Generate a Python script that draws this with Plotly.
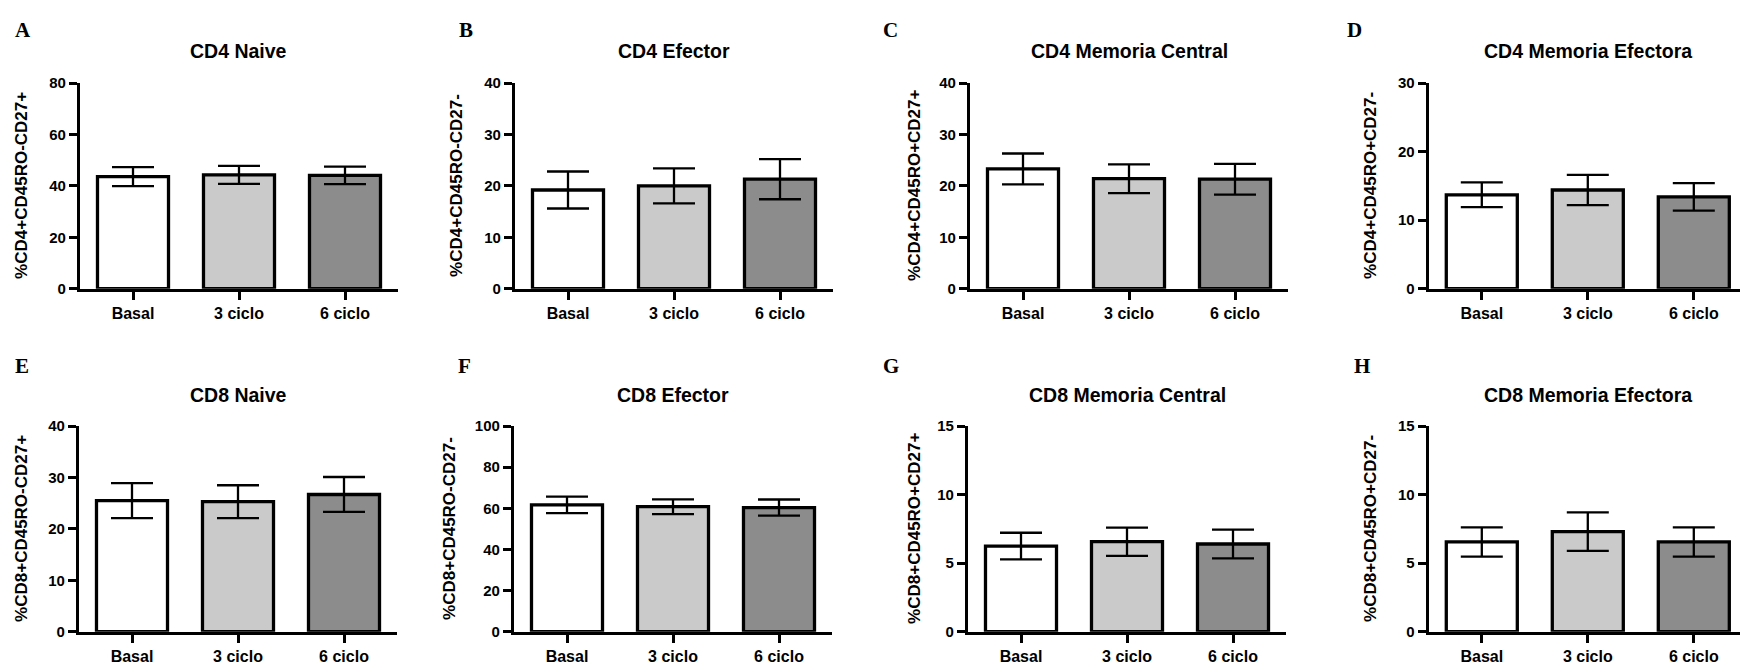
import plotly.graph_objects as go

W, H = 1740, 668

categories = ["Basal", "3 ciclo", "6 ciclo"]
bar_colors = ["#ffffff", "#cacaca", "#8c8c8c"]

letters = ["A", "B", "C", "D", "E", "F", "G", "H"]
titles = ["CD4 Naive", "CD4 Efector", "CD4 Memoria Central", "CD4 Memoria Efectora",
          "CD8 Naive", "CD8 Efector", "CD8 Memoria Central", "CD8 Memoria Efectora"]
ylabels = ["%CD4+CD45RO-CD27+", "%CD4+CD45RO-CD27-", "%CD4+CD45RO+CD27+", "%CD4+CD45RO+CD27-",
           "%CD8+CD45RO-CD27+", "%CD8+CD45RO-CD27-", "%CD8+CD45RO+CD27+", "%CD8+CD45RO+CD27-"]

cd4_naive = [43.6, 44.3, 44.1]
cd4_naive_err = [3.7, 3.5, 3.4]
cd4_efector = [19.2, 20.0, 21.3]
cd4_efector_err = [3.6, 3.4, 3.9]
cd4_mem_central = [23.3, 21.4, 21.3]
cd4_mem_central_err = [3.0, 2.8, 3.0]
cd4_mem_efectora = [13.7, 14.4, 13.4]
cd4_mem_efectora_err = [1.8, 2.2, 2.0]
cd8_naive = [25.5, 25.3, 26.7]
cd8_naive_err = [3.4, 3.2, 3.4]
cd8_efector = [61.7, 60.8, 60.4]
cd8_efector_err = [4.0, 3.6, 3.9]
cd8_mem_central = [6.25, 6.57, 6.4]
cd8_mem_central_err = [0.97, 1.03, 1.05]
cd8_mem_efectora = [6.55, 7.3, 6.55]
cd8_mem_efectora_err = [1.07, 1.4, 1.07]

means = [cd4_naive, cd4_efector, cd4_mem_central, cd4_mem_efectora,
         cd8_naive, cd8_efector, cd8_mem_central, cd8_mem_efectora]
errs = [cd4_naive_err, cd4_efector_err, cd4_mem_central_err, cd4_mem_efectora_err,
        cd8_naive_err, cd8_efector_err, cd8_mem_central_err, cd8_mem_efectora_err]
ymax = [80, 40, 40, 30, 40, 100, 15, 15]
ydtick = [20, 10, 10, 10, 10, 20, 5, 5]

# layout (pixels)
axis_left = [80, 515, 970, 1428.8, 79, 514, 968, 1428.8]
cat_step = 106.0
row_top = [76, 428]
row_bot = [287, 639]
ytitle_x = [22, 457, 915, 1371, 22, 450, 915, 1371]
title_y = [43, 396]
letter_pos = [(23, 22), (466, 22), (890, 22), (1354, 22),
              (22, 366), (464, 366), (891, 366), (1362, 366)]

FONT = "Liberation Sans, Arial, sans-serif"

def px(x):
    return x / W

def py(y):
    return 1 - y / H

fig = go.Figure()
annotations = []
layout = {}

for i in range(8):
    r = i // 4
    n = i + 1
    xa = "x" if n == 1 else f"x{n}"
    ya = "y" if n == 1 else f"y{n}"
    x0 = axis_left[i]
    x1 = x0 + 3 * cat_step
    rng_end = 2.5
    if x1 > W:
        rng_end = (W - x0) / cat_step - 0.5
        x1 = W
    fig.add_trace(go.Bar(
        x=categories, y=means[i], xaxis=xa, yaxis=ya,
        width=0.67,
        marker=dict(color=bar_colors, line=dict(color="black", width=3.3)),
        error_y=dict(type="data", array=errs[i], color="black", thickness=2.3, width=21),
        showlegend=False, hoverinfo="skip",
    ))
    xkey = "xaxis" if n == 1 else f"xaxis{n}"
    ykey = "yaxis" if n == 1 else f"yaxis{n}"
    layout[xkey] = dict(
        domain=[px(x0), px(x1)], anchor=ya, type="category",
        categoryorder="array", categoryarray=categories,
        range=[-0.5, rng_end],
        showline=True, linecolor="black", linewidth=3.2,
        ticks="outside", ticklen=8, tickwidth=2.8, tickcolor="black",
        tickfont=dict(family=FONT, size=16, color="black", weight="bold"),
        showgrid=False, zeroline=False, fixedrange=True,
    )
    layout[ykey] = dict(
        domain=[py(row_bot[r]), py(row_top[r])], anchor=xa,
        range=[0, ymax[i]], dtick=ydtick[i], tick0=0,
        showline=True, linecolor="black", linewidth=3.2,
        ticks="outside", ticklen=8, tickwidth=2.8, tickcolor="black",
        tickfont=dict(family=FONT, size=15, color="black", weight="bold"),
        showgrid=False, zeroline=False, fixedrange=True,
    )
    cx = axis_left[i] + 1.5 * cat_step
    annotations.append(dict(
        text=titles[i], x=px(cx), y=py(title_y[r]), xref="paper", yref="paper",
        xanchor="center", yanchor="middle", showarrow=False,
        font=dict(family=FONT, size=19.5, color="black", weight="bold"),
    ))
    annotations.append(dict(
        text=ylabels[i], x=px(ytitle_x[i]), y=py((row_top[r] + row_bot[r]) / 2),
        xref="paper", yref="paper", xanchor="center", yanchor="middle",
        textangle=-90, showarrow=False,
        font=dict(family=FONT, size=17, color="black", weight="bold"),
    ))
    lx, ly = letter_pos[i]
    annotations.append(dict(
        text=letters[i], x=px(lx), y=py(ly), xref="paper", yref="paper",
        xanchor="center", yanchor="middle", showarrow=False,
        font=dict(family="Liberation Serif, Times New Roman, serif", size=21,
                  color="black", weight="bold"),
    ))

fig.update_layout(
    width=W, height=H,
    margin=dict(l=0, r=0, t=0, b=0),
    paper_bgcolor="white", plot_bgcolor="white",
    annotations=annotations,
    bargap=0.33,
    **layout,
)

fig.write_html("out.html")
